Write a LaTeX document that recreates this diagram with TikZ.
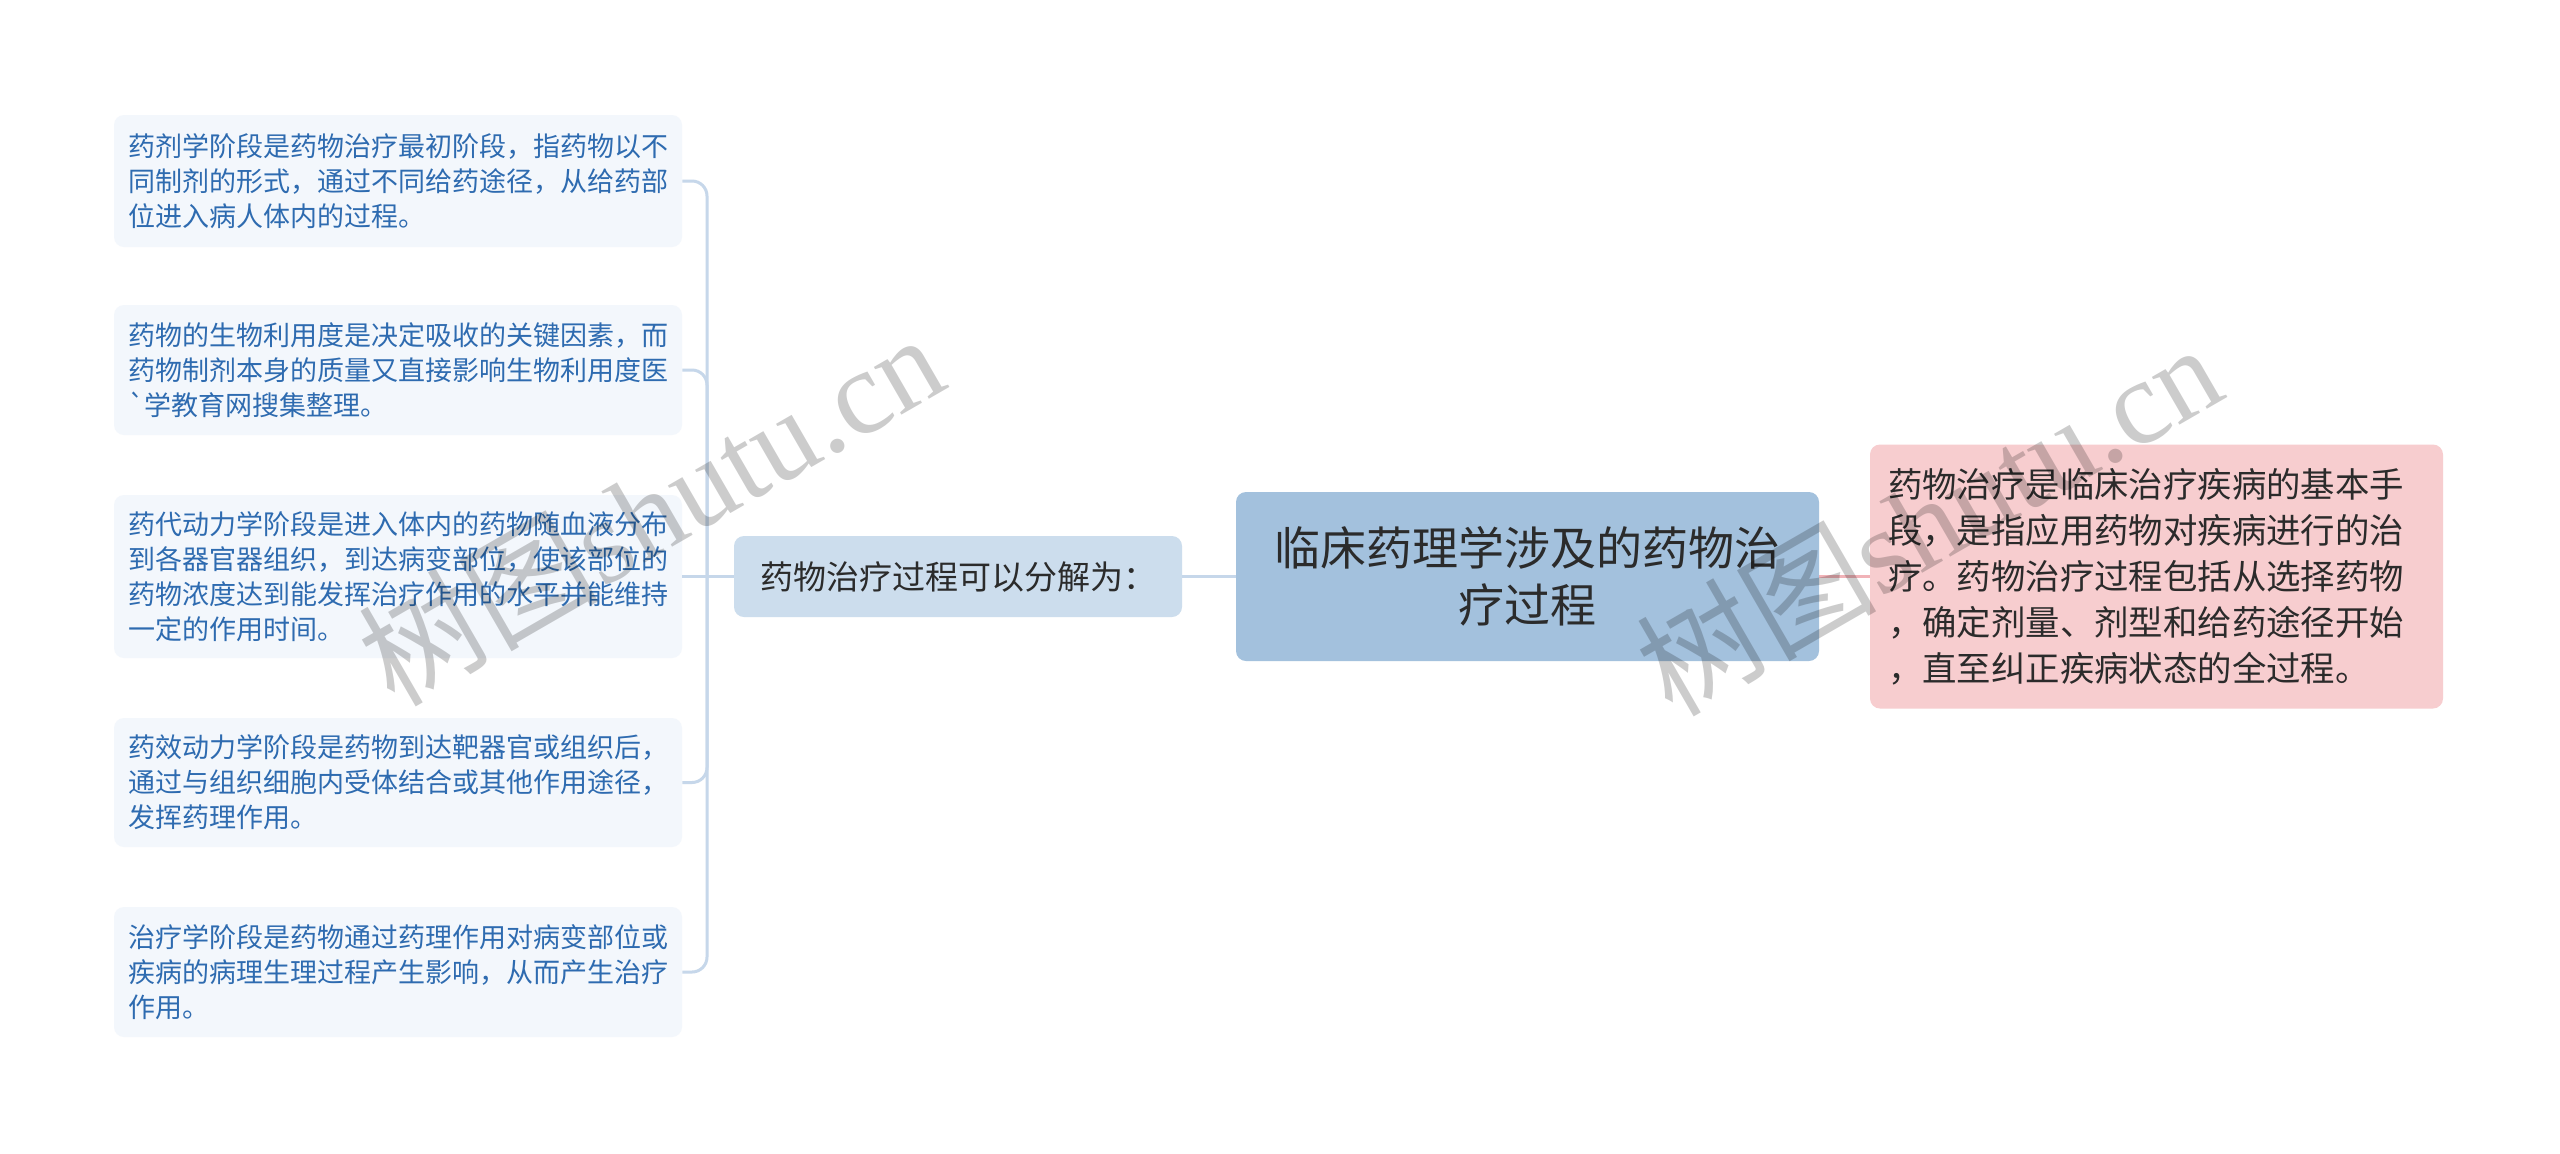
\documentclass[tikz,border=0pt]{standalone}
\usepackage{fontspec}
\setmainfont{Noto Sans CJK SC}
\newfontfamily\wmserif{Liberation Serif}
\definecolor{leaffill}{HTML}{F3F7FC}
\definecolor{leaftext}{HTML}{2E6BB0}
\definecolor{subfill}{HTML}{CCDDED}
\definecolor{rootfill}{HTML}{A3C1DD}
\definecolor{pinkfill}{HTML}{F7CDCF}
\definecolor{darktext}{HTML}{2B2B2B}
\definecolor{bluecon}{HTML}{C6D7EA}
\definecolor{pinkcon}{HTML}{F1B3B8}
\tikzset{
  leaf/.style={fill=leaffill, rounded corners=5pt, text=leaftext,
    font=\fontsize{13.5pt}{17.5pt}\selectfont, align=left, text width=270pt,
    inner xsep=7pt, inner ysep=0pt},
  subnode/.style={fill=subfill, rounded corners=5pt, text=darktext,
    font=\fontsize{16.5pt}{20pt}\selectfont, minimum width=224pt, minimum height=40.5pt,
    inner sep=0pt},
  rootnode/.style={fill=rootfill, rounded corners=5pt, text=darktext,
    font=\fontsize{23pt}{28.5pt}\selectfont, align=center, minimum width=291.5pt,
    minimum height=84.5pt, inner sep=0pt},
  pinknode/.style={fill=pinkfill, rounded corners=5pt, text=darktext,
    font=\fontsize{17.2pt}{23pt}\selectfont, align=left, text width=268.5pt,
    inner xsep=9pt, inner ysep=0pt, minimum height=132pt},
  conn/.style={draw=bluecon, line width=1.5pt},
  pconn/.style={draw=pinkcon, line width=1.5pt},
  wmark/.style={rotate=30, text=black, opacity=0.2, font=\fontsize{60pt}{64pt}\selectfont}
}
\begin{document}
\begin{tikzpicture}[x=0.5pt, y=-0.5pt]
\useasboundingbox (0,0) rectangle (2560,1153);
\fill[white] (0,0) rectangle (2560,1153);

\node[leaf, minimum height=66pt] (b1) at (398,181) {药剂学阶段是药物治疗最初阶段，指药物以不\\同制剂的形式，通过不同给药途径，从给药部\\位进入病人体内的过程。};
\node[leaf, minimum height=65pt] (b2) at (398,370) {药物的生物利用度是决定吸收的关键因素，而\\药物制剂本身的质量又直接影响生物利用度医\\\textasciigrave 学教育网搜集整理。};
\node[leaf, minimum height=81.5pt] (b3) at (398,576.5) {药代动力学阶段是进入体内的药物随血液分布\\到各器官器组织，到达病变部位，使该部位的\\药物浓度达到能发挥治疗作用的水平并能维持\\一定的作用时间。};
\node[leaf, minimum height=64.5pt] (b4) at (398,782.5) {药效动力学阶段是药物到达靶器官或组织后，\\通过与组织细胞内受体结合或其他作用途径，\\发挥药理作用。};
\node[leaf, minimum height=65pt] (b5) at (398,972) {治疗学阶段是药物通过药理作用对病变部位或\\疾病的病理生理过程产生影响，从而产生治疗\\作用。};

\node[subnode] (sub) at (958,576.5) {药物治疗过程可以分解为：};
\node[rootnode] (root) at (1527.5,576.5) {临床药理学涉及的药物治\\疗过程};
\node[pinknode] (right) at (2156.5,576.5) {药物治疗是临床治疗疾病的基本手\\段，是指应用药物对疾病进行的治\\疗。药物治疗过程包括从选择药物\\，确定剂量、剂型和给药途径开始\\，直至纠正疾病状态的全过程。};

\coordinate (j) at (707,576.5);
\draw[conn] (sub.west) -- (j);
\draw[conn, rounded corners=7.5pt] (j) |- (b1.east);
\draw[conn, rounded corners=7.5pt] (j) |- (b2.east);
\draw[conn] (j) -- (b3.east);
\draw[conn, rounded corners=7.5pt] (j) |- (b4.east);
\draw[conn, rounded corners=7.5pt] (j) |- (b5.east);
\draw[conn] (root.west) -- (sub.east);
\draw[pconn] (root.east) -- (right.west);

\node[wmark] (wm1) at (650,508) {树图{\wmserif shutu.cn}};
\node[wmark] (wm2) at (1928,518) {树图{\wmserif shutu.cn}};
\end{tikzpicture}
\end{document}
